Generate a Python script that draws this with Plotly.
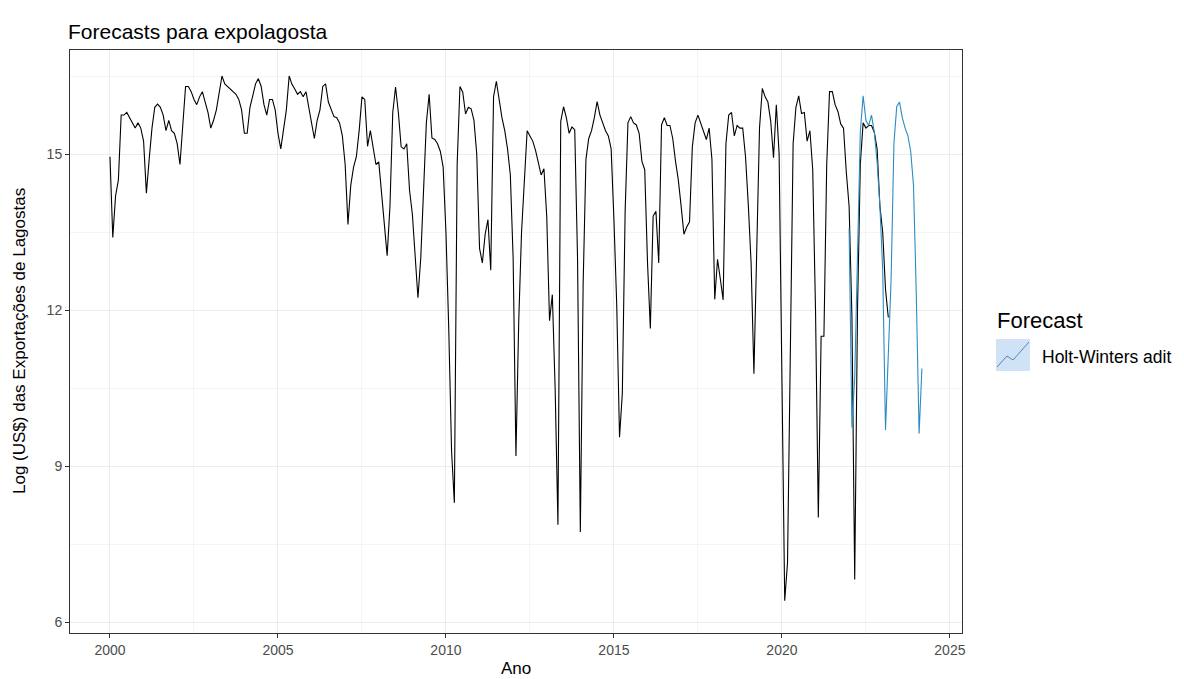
import plotly.graph_objects as go

# ---------------- data (monthly, log US$) ----------------
actual_start = 2000.0   # Jan 2000
forecast_start = 2022.0  # Jan 2022
freq = 12

actual_2000_2004 = [
    14.95, 13.4, 14.2, 14.5, 15.75, 15.75, 15.8, 15.7, 15.6, 15.5, 15.6, 15.5,
    15.25, 14.25, 14.9, 15.5, 15.9, 15.96, 15.9, 15.75, 15.45, 15.65, 15.45, 15.4,
    15.2, 14.8, 15.55, 16.3, 16.3, 16.2, 16.05, 15.95, 16.1, 16.2, 16.0, 15.8,
    15.5, 15.65, 15.85, 16.15, 16.5, 16.35, 16.3, 16.25, 16.2, 16.15, 16.05, 15.85,
    15.4, 15.4, 15.9, 16.15, 16.35, 16.45, 16.3, 15.95, 15.75, 16.05, 16.05, 15.85,
]
actual_2005_2009 = [
    15.4, 15.1, 15.5, 15.85, 16.5, 16.34, 16.25, 16.15, 16.2, 16.1, 16.2, 15.9,
    15.55, 15.3, 15.65, 15.85, 16.3, 16.35, 16.0, 15.87, 15.72, 15.7, 15.6, 15.35,
    14.8, 13.65, 14.4, 14.75, 14.95, 15.45, 16.1, 16.05, 15.15, 15.45, 15.1, 14.8,
    14.85, 14.25, 13.55, 13.05, 14.0, 15.8, 16.29, 15.8, 15.14, 15.1, 15.2, 14.3,
    13.85, 13.0, 12.24, 13.0, 14.2, 15.6, 16.15, 15.31, 15.28, 15.2, 15.05, 14.75,
]
actual_2010_2014 = [
    13.5, 11.65, 9.3, 8.3, 14.8, 16.3, 16.19, 15.77, 15.9, 15.87, 15.65, 15.0,
    13.19, 12.91, 13.46, 13.74, 12.77, 16.1, 16.4, 16.05, 15.7, 15.45, 15.1, 14.6,
    13.0, 9.2, 11.8, 13.5, 14.6, 15.45, 15.35, 15.25, 15.07, 14.8, 14.6, 14.72,
    13.8, 11.8, 12.3, 10.5, 7.88, 15.63, 15.91, 15.7, 15.4, 15.52, 15.47, 13.0,
    7.74, 12.5, 14.9, 15.3, 15.45, 15.7, 16.01, 15.75, 15.6, 15.45, 15.35, 15.1,
]
actual_2015_2019 = [
    13.74, 12.1, 9.56, 10.4, 13.9, 15.6, 15.72, 15.6, 15.56, 15.4, 14.86, 14.7,
    12.91, 11.65, 13.81, 13.9, 12.91, 15.56, 15.7, 15.55, 15.55, 15.3, 14.86, 14.5,
    14.0, 13.46, 13.6, 13.7, 15.14, 15.6, 15.75, 15.6, 15.45, 15.28, 15.5, 14.9,
    12.21, 12.98, 12.6, 12.2, 15.2, 15.75, 15.8, 15.35, 15.55, 15.5, 15.5, 14.95,
    14.02, 12.9, 10.78, 13.5, 15.5, 16.26, 16.1, 16.0, 15.63, 14.93, 15.95, 15.0,
]
actual_2020_2023 = [
    11.0, 6.42, 7.15, 10.8, 15.2, 15.9, 16.12, 15.78, 15.8, 15.25, 15.45, 14.7,
    12.0, 8.02, 11.5, 11.5, 14.8, 16.2, 16.2, 15.95, 15.82, 15.58, 15.5, 14.65,
    14.0, 11.9, 6.83, 12.0, 14.8, 15.6, 15.5, 15.55, 15.55, 15.42, 15.1, 14.0,
    13.5, 12.4, 11.86,
]
forecast_values = [
    13.57, 9.75, 10.7, 13.2, 15.42, 16.12, 15.65, 15.55, 15.75, 15.42, 14.85, 14.0,
    12.77, 9.7, 11.0, 12.6, 15.2, 15.91, 16.0, 15.7, 15.5, 15.35, 15.05, 14.4,
    12.3, 9.63, 10.88,
]

title_text = "Forecasts para expolagosta"
x_title = "Ano"
y_title = "Log (US$) das Exportações de Lagostas"
legend_title = "Forecast"
legend_label = "Holt-Winters adit"
x_ticks = [2000, 2005, 2010, 2015, 2020, 2025]
y_ticks = [6, 9, 12, 15]

actual_values = (actual_2000_2004 + actual_2005_2009 + actual_2010_2014
                 + actual_2015_2019 + actual_2020_2023)
actual_time = [actual_start + i / freq for i in range(len(actual_values))]
forecast_time = [forecast_start + i / freq for i in range(len(forecast_values))]

# ---------------- figure ----------------
OFF = 8                      # page body margin in the browser
W, H = 1184 - OFF, 679 - OFF
L, R, T, B = 70 - OFF, 962 - OFF, 50 - OFF, 633 - OFF
FONT = "Liberation Sans, Arial, sans-serif"
fc_color = "#2b8cc4"

fig = go.Figure()
fig.add_trace(go.Scatter(x=actual_time, y=actual_values, mode="lines",
                         line=dict(color="black", width=1.1), showlegend=False,
                         hoverinfo="x+y"))
fig.add_trace(go.Scatter(x=forecast_time, y=forecast_values, mode="lines",
                         line=dict(color=fc_color, width=1.1), showlegend=False,
                         hoverinfo="x+y"))

def px_x(p):  # reference-picture pixel -> paper coordinate
    return (p - OFF - L) / (R - L)

def px_y(p):
    return (B - (p - OFF)) / (B - T)

grid_major = "#EBEBEB"
grid_minor = "#F4F4F4"
tick_font = dict(family=FONT, size=14, color="#4D4D4D")

fig.update_layout(
    width=W, height=H,
    margin=dict(l=L, r=W - R, t=T, b=H - B, pad=0),
    paper_bgcolor="white", plot_bgcolor="white",
    font=dict(family=FONT, color="#4D4D4D", size=14),
    title=dict(text=title_text, x=(68 - OFF) / W, xanchor="left", xref="container",
               y=1 - (32 - OFF) / H, yanchor="middle", yref="container",
               font=dict(family=FONT, size=21, color="black")),
    xaxis=dict(range=[1998.81, 2025.36], tickmode="array", tickvals=x_ticks,
               ticktext=[str(t) for t in x_ticks],
               showgrid=True, gridcolor=grid_major, gridwidth=1,
               minor=dict(tickmode="linear", tick0=2002.5, dtick=5, showgrid=True,
                          gridcolor=grid_minor, gridwidth=0.7, ticks=""),
               showline=True, mirror=True, linecolor="#333333", linewidth=1,
               ticks="outside", ticklen=4, tickcolor="#333333",
               tickfont=tick_font, zeroline=False),
    yaxis=dict(range=[5.8, 17.0], tickmode="array", tickvals=y_ticks,
               ticktext=[str(t) for t in y_ticks],
               showgrid=True, gridcolor=grid_major, gridwidth=1,
               minor=dict(tickmode="linear", tick0=7.5, dtick=3, showgrid=True,
                          gridcolor=grid_minor, gridwidth=0.7, ticks=""),
               showline=True, mirror=True, linecolor="#333333", linewidth=1,
               ticks="outside", ticklen=4, tickcolor="#333333",
               tickfont=tick_font, zeroline=False),
    showlegend=False,
)

annotations = [
    dict(text=x_title, x=0.5, y=px_y(668), xref="paper", yref="paper",
         showarrow=False, xanchor="center", yanchor="middle",
         font=dict(family=FONT, size=17, color="black")),
    dict(text=y_title, x=px_x(19), y=px_y(341), xref="paper", yref="paper",
         showarrow=False, xanchor="center", yanchor="middle", textangle=-90,
         font=dict(family=FONT, size=17, color="black")),
    dict(text=legend_title, x=px_x(995), y=px_y(320), xref="paper", yref="paper",
         showarrow=False, xanchor="left", yanchor="middle",
         font=dict(family=FONT, size=22, color="black")),
    dict(text=legend_label, x=px_x(1040), y=px_y(357), xref="paper", yref="paper",
         showarrow=False, xanchor="left", yanchor="middle",
         font=dict(family=FONT, size=17.5, color="black")),
]
fig.update_layout(annotations=annotations)

# legend key (decoration)
kx0, kx1, ky0, ky1 = 996, 1030, 339, 371
path = "M {} {} L {} {} L {} {} L {} {}".format(
    px_x(997), px_y(367), px_x(1007), px_y(356), px_x(1013), px_y(360),
    px_x(1029), px_y(342))
fig.update_layout(shapes=[
    dict(type="rect", xref="paper", yref="paper", x0=px_x(kx0), x1=px_x(kx1),
         y0=px_y(ky1), y1=px_y(ky0), fillcolor="#CFE2F6", line=dict(width=0),
         layer="above"),
    dict(type="path", xref="paper", yref="paper", path=path,
         line=dict(color="#4F86B8", width=1), layer="above"),
])

fig.write_html("out.html")
